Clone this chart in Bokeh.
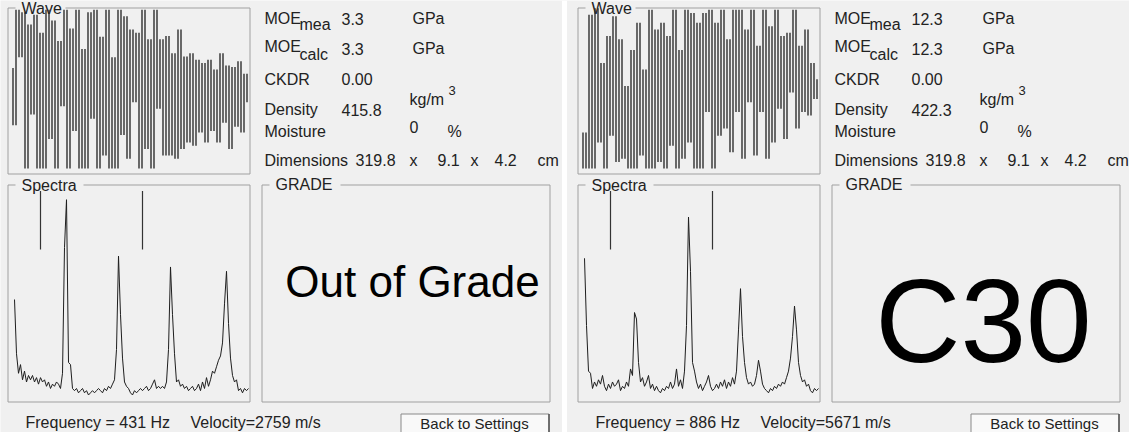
from bokeh.plotting import figure
from bokeh.models import Range1d
from bokeh.core.properties import value
from bokeh.embed import file_html
from bokeh.resources import INLINE

# ---------------- data ----------------
moe_mea = ["3.3", "12.3"]
moe_calc = ["3.3", "12.3"]
ckdr = ["0.00", "0.00"]
density = ["415.8", "422.3"]
moisture = ["0", "0"]
length_cm = ["319.8", "319.8"]
width_cm = ["9.1", "9.1"]
thick_cm = ["4.2", "4.2"]
frequency_hz = [431, 886]
velocity_ms = [2759, 5671]
grade = ["Out of Grade", "C30"]

wave_left = [27, -43, 98, 40, 95, -96, 80, -30, 92, -96,
             70, -96, 98, -60, 85, -96, 60, -20, 98, -96,
             75, -50, 98, -96, 50, -96, 95, -35, 98, -96,
             65, -80, 98, -96, 40, -96, 98, -55, 90, -84,
             74, -15, 70, -96, 98, -72, 62, -96, 98, -23,
             62, -80, 66, -80, 45, -84, 74, -72, 41, -64,
             45, -68, 37, -52, 33, -64, 37, -50, 25, -64,
             45, -40, 30, -72, 28, -45, 35, -52, 20, -15]

wave_right = [-96, -52, -96, 92, -96, 100, -64, 33, -96, 66,
              -56, 90, -88, 62, -84, 5, -96, 49, -96, 82,
              -80, 25, -96, 98, -96, 74, -88, 82, -96, 66,
              -68, 98, -96, 49, -84, 98, -64, 94, -96, 82,
              -96, 94, -27, 98, -96, 82, -56, 98, -47, 62,
              -76, 98, -27, 98, -84, 74, -15, 98, -80, 54,
              -27, 98, -84, 78, -64, 98, -23, 66, -60, 70,
              -3, 98, -47, 54, -27, 74, -31, 33, -11, 13]

spectrum_left = [47, 22, 13, 17, 10, 14, 9, 12, 10, 12,
                 9, 11, 8, 11, 9, 10, 7, 9, 6, 8,
                 7, 9, 8, 6, 13, 71, 93, 18, 17, 6,
                 5, 6, 4, 5, 6, 4, 5, 3, 4, 5,
                 4, 5, 6, 5, 4, 6, 5, 7, 6, 8,
                 10, 24, 67, 40, 20, 9, 7, 6, 4, 3,
                 5, 4, 5, 6, 5, 6, 7, 5, 6, 8,
                 10, 6, 7, 6, 7, 6, 9, 24, 62, 40,
                 22, 9, 10, 7, 8, 6, 7, 5, 6, 7,
                 5, 6, 8, 5, 9, 6, 11, 7, 10, 14,
                 13, 16, 19, 21, 27, 45, 60, 36, 20, 12,
                 9, 10, 5, 6, 4, 6, 5, 6]

spectrum_right = [66, 35, 14, 13, 6, 9, 7, 10, 8, 12,
                  7, 5, 8, 6, 9, 7, 8, 10, 5, 7,
                  6, 9, 7, 15, 12, 41, 38, 18, 9, 11,
                  7, 9, 12, 6, 8, 5, 7, 5, 4, 6,
                  5, 7, 6, 9, 6, 8, 15, 7, 10, 6,
                  14, 35, 85, 60, 18, 14, 9, 6, 8, 5,
                  7, 9, 12, 7, 5, 6, 8, 6, 9, 7,
                  10, 6, 9, 7, 11, 8, 14, 33, 52, 30,
                  18, 11, 8, 9, 7, 8, 12, 19, 14, 8,
                  6, 5, 4, 6, 5, 7, 6, 8, 7, 9,
                  8, 11, 14, 20, 30, 44, 33, 18, 12, 9,
                  10, 7, 8, 5, 4, 6, 5, 6]

marker_bins = [13, 64]
marker_low, marker_high = 70, 97

waves = [wave_left, wave_right]
spectra = [spectrum_left, spectrum_right]

# ---------------- layout / style ----------------
FONT = value("Liberation Sans")
BG = "#f0f0f0"
BORDER = "#a0a0a0"
TXT = "#222222"
PANEL_DX = [0, 570]
GRADE_SIZE = ["44px", "118px"]
GRADE_POS = [(420, 289), (421, 328)]

p = figure(width=1129, height=432, x_range=Range1d(8, 1137), y_range=Range1d(440, 8),
           output_backend="svg", toolbar_location=None, min_border=0,
           x_axis_location=None, y_axis_location=None)
p.grid.visible = False
p.outline_line_color = None
p.background_fill_color = BG
p.border_fill_color = BG


def txt(xs, ys, texts, size="16px", align="left", color=TXT):
    p.text(x=xs, y=ys, text=texts, text_font=FONT, text_font_size=size,
           text_align=align, text_baseline="middle", text_color=color)


# white separator between the two screens
p.quad(left=[569.5], right=[574.5], top=[8], bottom=[440], fill_color="white", line_color=None)

for k in range(2):
    dx = PANEL_DX[k]
    # group boxes
    p.quad(left=[15.5 + dx, 15.5 + dx, 269.5 + dx], right=[257.5 + dx, 257.5 + dx, 557.5 + dx],
           top=[15.5, 192.5, 192.5], bottom=[181.5, 409.5, 409.5],
           fill_color=None, line_color=BORDER, line_width=1)
    # gaps for the titles
    p.quad(left=[23 + dx, 23 + dx, 277 + dx], right=[73 + dx, 91 + dx, 348 + dx],
           top=[12, 189, 189], bottom=[19, 196, 196], fill_color=BG, line_color=None)
    txt([29 + dx, 29 + dx, 283 + dx], [16, 193, 192], ["Wave", "Spectra", "GRADE"])

    # wave: each sample-to-sample transition drawn as a vertical stroke
    w = waves[k]
    wxy = p.subplot(x_source=Range1d(0, len(w) - 1), y_source=Range1d(-102, 102),
                    x_target=Range1d(19 + dx, 256 + dx), y_target=Range1d(181, 14))
    xs = [i + 0.5 for i in range(len(w) - 1)]
    wxy.segment(x0=xs, x1=xs, y0=w[:-1], y1=w[1:], line_color="#2e2e2e", line_width=1.4)

    # spectrum
    s = spectra[k]
    sxy = p.subplot(x_source=Range1d(-3.5, len(s) - 0.5), y_source=Range1d(0, 100),
                    x_target=Range1d(15 + dx, 257 + dx), y_target=Range1d(409, 192))
    sxy.line(x=list(range(len(s))), y=s, line_color="#1e1e1e", line_width=1)
    sxy.segment(x0=marker_bins, x1=marker_bins, y0=[marker_low] * 2, y1=[marker_high] * 2,
                line_color="#333333", line_width=1.2)

    # info block
    txt([272 + dx] * 6, [26, 54, 86.5, 117, 139, 167.5],
        ["MOE", "MOE", "CKDR", "Density", "Moisture", "Dimensions"])
    txt([307 + dx, 307 + dx], [31.5, 61.5], ["mea", "calc"])
    txt([349 + dx] * 4, [26, 56, 86.5, 117], [moe_mea[k], moe_calc[k], ckdr[k], density[k]])
    txt([420 + dx, 420 + dx, 417 + dx], [26, 56, 106.5], ["GPa", "GPa", "kg/m"])
    txt([456 + dx], [98], ["3"], size="13px")
    txt([417 + dx, 455 + dx], [134, 139], [moisture[k], "%"])
    txt([363 + dx, 417 + dx, 445 + dx, 478 + dx, 502 + dx, 545 + dx], [167.5] * 6,
        [length_cm[k], "x", width_cm[k], "x", thick_cm[k], "cm"])

    # grade
    gx, gy = GRADE_POS[k]
    txt([gx + dx], [gy], [grade[k]], size=GRADE_SIZE[k], align="center", color="#000000")

    # bottom line
    txt([33 + dx, 198 + dx], [429.5, 429.5],
        [f"Frequency = {frequency_hz[k]} Hz", f"Velocity={velocity_ms[k]} m/s"])

    # button
    p.quad(left=[408.5 + dx], right=[556.5 + dx], top=[421.5], bottom=[446],
           fill_color="#f9f9f9", line_color="#8a8a8a", line_width=1)
    p.segment(x0=[556.5 + dx], x1=[556.5 + dx], y0=[421.5], y1=[446], line_color="#555555", line_width=1.5)
    txt([482 + dx], [431], ["Back to Settings"], size="15px", align="center")

open("out.html", "w").write(file_html(p, INLINE))
